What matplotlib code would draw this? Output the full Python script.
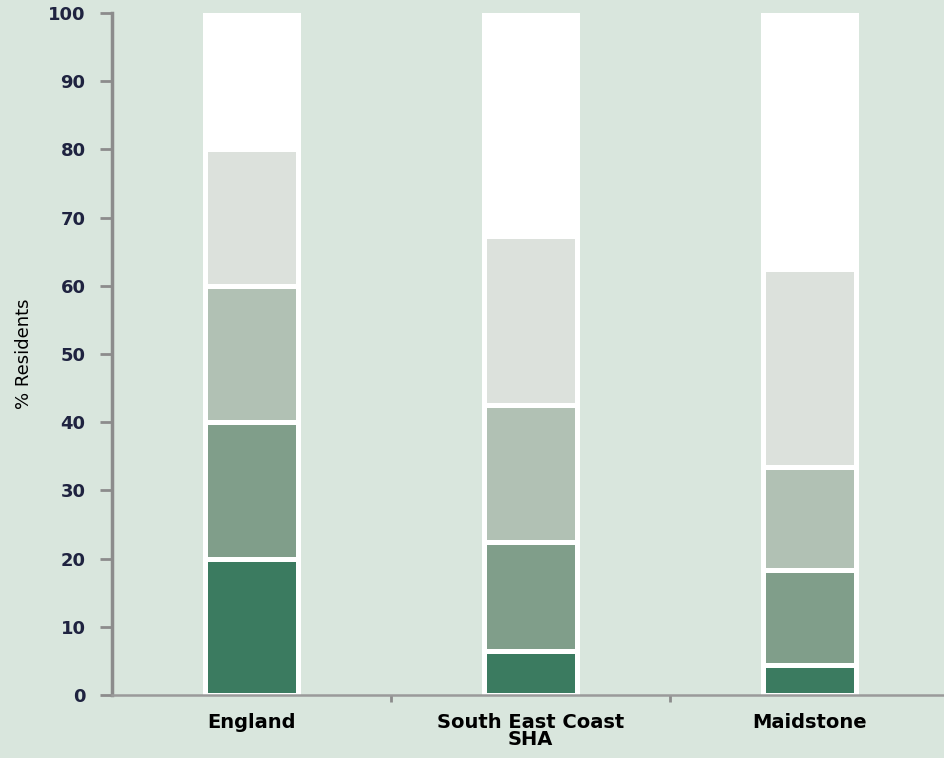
import numpy as np
import matplotlib.pyplot as plt

areas = ['England', 'South East Coast\nSHA', 'Maidstone']
# quintile shares (most deprived first), % residents
q1 = [20.0, 6.5, 4.4]
q2 = [20.0, 15.9, 13.9]
q3 = [20.0, 20.1, 15.1]
q4 = [20.0, 24.8, 29.1]
q5 = [20.0, 32.7, 37.5]
colors = ['#3b7b60', '#809e8a', '#b1c1b4', '#dce1dc', '#ffffff']
bg = '#d9e6dd'

fig = plt.figure(figsize=(9.44, 7.58), dpi=100, facecolor=bg)
ax = fig.add_axes([0.1186, 0.0831, 0.8867, 0.8997])
ax.set_facecolor(bg)

x = np.arange(len(areas))
bottom = np.zeros(len(areas))
for vals, c in zip([q1, q2, q3, q4, q5], colors):
    ax.bar(x, vals, 0.333, bottom=bottom, color=c, edgecolor='white', linewidth=3.6)
    bottom += np.array(vals)

ax.set_xlim(-0.5, 2.5)
ax.set_ylim(0, 100)
ax.set_yticks(range(0, 101, 10))
ax.set_xticks(x)
ax.set_xticklabels(areas, fontsize=14, fontweight='bold', color='black', linespacing=0.85)
ax.set_xticks([0.5, 1.5], minor=True)
ax.tick_params(axis='x', which='major', length=0, pad=13)
ax.tick_params(axis='x', which='minor', length=5, width=2, color='#8c8c8c', direction='out')
ax.tick_params(axis='y', length=9, width=2, color='#8c8c8c', labelsize=13, pad=10,
               labelcolor='#1f2340')
for lab in ax.get_yticklabels():
    lab.set_fontweight('bold')

for s in ['top', 'right']:
    ax.spines[s].set_visible(False)
ax.spines['left'].set_color('#8c8c8c')
ax.spines['left'].set_linewidth(2.5)
ax.spines['bottom'].set_color('#9a9a9a')
ax.spines['bottom'].set_linewidth(1.8)

ax.set_ylabel('% Residents', fontsize=13)
ax.yaxis.set_label_coords(-0.094, 0.5)

plt.savefig('out.png', dpi=100, facecolor=bg)
